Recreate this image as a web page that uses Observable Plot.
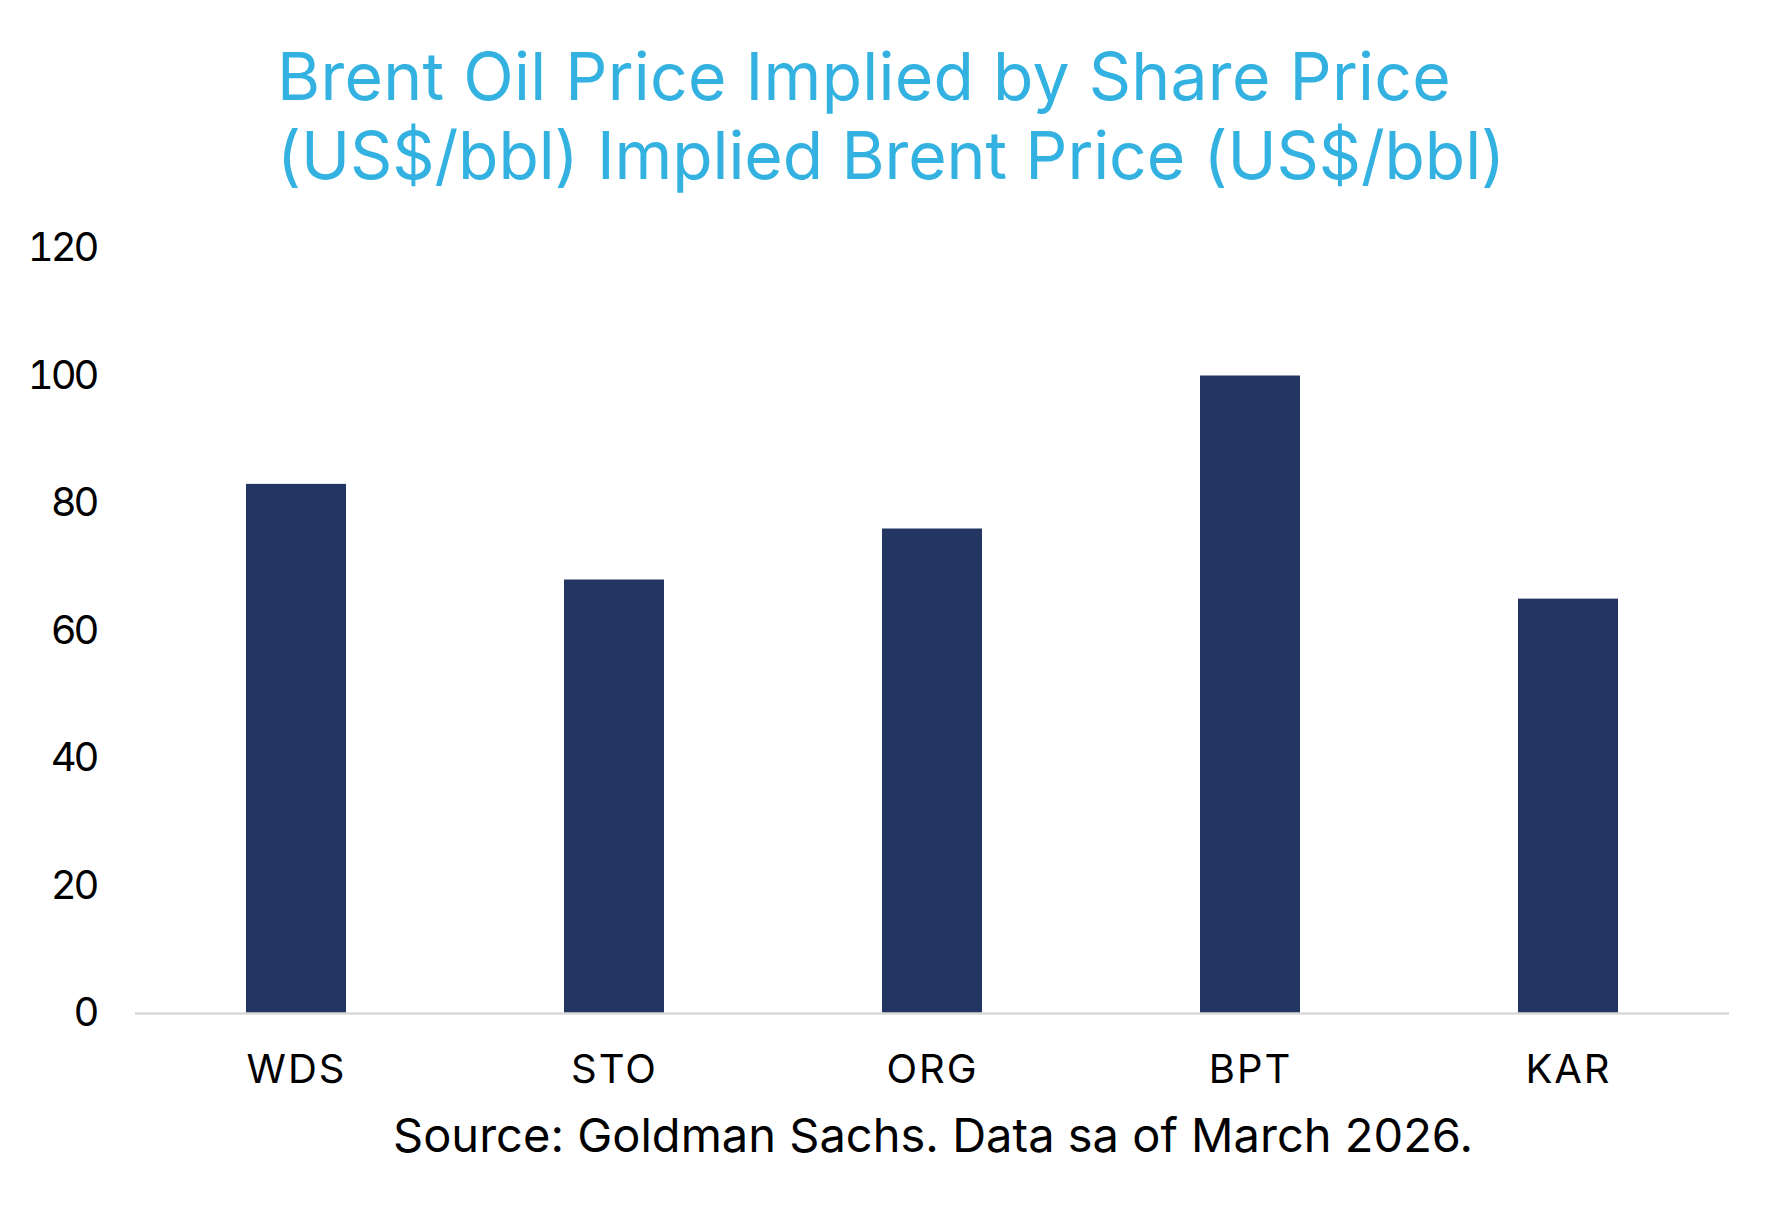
<!DOCTYPE html>
<html>
<head>
<meta charset="utf-8">
<script src="https://cdn.jsdelivr.net/npm/d3@7"></script>
<script src="https://cdn.jsdelivr.net/npm/@observablehq/plot@0.6"></script>
<style>
  html, body { margin: 0; padding: 0; background: #fff; }
  #wrap { position: relative; width: 1779px; height: 1219px; overflow: hidden; font-family: Inter, "Noto Sans", sans-serif; }
  .tline { position: absolute; left: 277px; color: #33b2e1; font-size: 66px; line-height: 70px; font-weight: 400; white-space: nowrap; }
  #chart { position: absolute; left: 0; top: 200px; }
  #caption { position: absolute; left: 393px; top: 1105px; color: #000; font-size: 47px; line-height: 60px; white-space: nowrap; }
</style>
</head>
<body>
<div id="wrap">
  <div id="t1" class="tline" style="top:41px"></div>
  <div id="t2" class="tline" style="top:120px"></div>
  <div id="chart"></div>
  <div id="caption"></div>
</div>
<script>
const titleLines = ["Brent Oil Price Implied by Share Price", "(US$/bbl) Implied Brent Price (US$/bbl)"];
const captionText = "Source: Goldman Sachs. Data sa of March 2026.";
const companies = ["WDS", "STO", "ORG", "BPT", "KAR"];
const impliedBrent = [83, 68, 76, 100, 65];
const yTicks = [0, 20, 40, 60, 80, 100, 120];

const data = companies.map((c, i) => ({company: c, value: impliedBrent[i]}));

function fitLine(container, text, target) {
  const s = document.createElement("span");
  s.textContent = text;
  container.appendChild(s);
  const w = s.getBoundingClientRect().width;
  s.style.letterSpacing = ((target - w) / text.length) + "px";
}

fitLine(document.getElementById("t1"), titleLines[0], 1174);
fitLine(document.getElementById("t2"), titleLines[1], 1228);
fitLine(document.getElementById("caption"), captionText, 1080);

const plot = Plot.plot({
  width: 1779,
  height: 900,
  marginLeft: 135,
  marginRight: 50,
  marginTop: 48,
  marginBottom: 87,
  style: {fontFamily: "Inter, 'Noto Sans', sans-serif", fontSize: "40px", color: "#000", background: "#fff"},
  x: {domain: companies, paddingInner: 0.6863, paddingOuter: 0.343, label: null},
  y: {domain: [0, 120], label: null},
  marks: [
    Plot.barY(data, {x: "company", y: "value", fill: "#233562"}),
    Plot.ruleY([0], {stroke: "#d9d9d9", strokeWidth: 2.7}),
    Plot.axisX({tickSize: 0, tickPadding: 41, fontSize: 40, label: null, fill: "#000"}),
    Plot.axisY({ticks: yTicks, tickSize: 0, tickPadding: 39, fontSize: 40, label: null, fill: "#000"})
  ]
});
plot.querySelectorAll('[aria-label="x-axis tick label"] text').forEach(t => t.style.letterSpacing = "2px");
plot.querySelectorAll('[aria-label="y-axis tick label"] text').forEach(t => t.style.letterSpacing = "-3px");
document.getElementById("chart").appendChild(plot);
</script>
</body>
</html>
